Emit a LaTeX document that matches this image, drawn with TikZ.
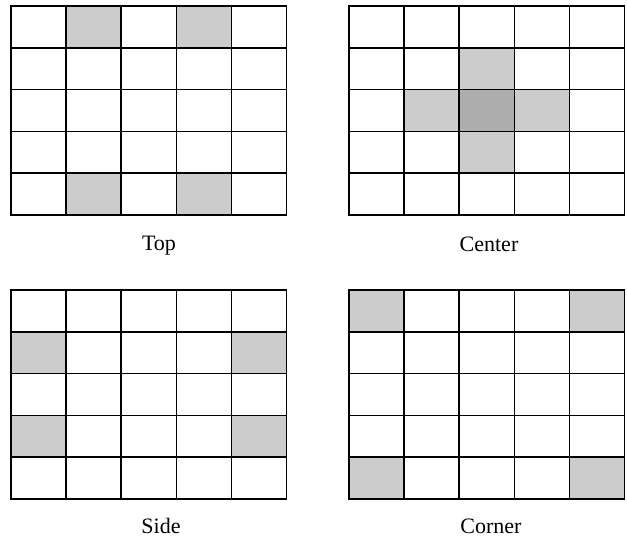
\documentclass[tikz,border=0pt]{standalone}
\usepackage{fontspec}
\setmainfont{Liberation Serif}
\usetikzlibrary{positioning}

\begin{document}
\begin{tikzpicture}[
  x=1pt, y=-1pt,
  % Cell styles
  shaded/.style={
    fill=black!20,
    draw=none,
  },
  shadedcore/.style={
    fill=black!32,
    draw=none,
  },
  gridline/.style={
    draw=black,
    line width=1.5pt,
    line cap=rect,
  },
  caption/.style={
    font=\fontsize{22}{26}\selectfont,
    anchor=base,
    inner sep=0pt,
  },
  panel/.style={
    x=55.1pt, y=-41.8pt,
  },
]
\useasboundingbox (0,0) rectangle (627,540);

% ── Panel 1: Top ──
\begin{scope}[shift={(11pt,-6pt)}, panel]
  \foreach \c/\r in {1/0, 3/0, 1/4, 3/4}
    \fill[shaded] (\c,\r) rectangle ++(1,1);
  \foreach \i in {0,...,5} {
    \draw[gridline] (\i,0) -- (\i,5);
    \draw[gridline] (0,\i) -- (5,\i);
  }
\end{scope}
\node[caption] (toplabel) at (159,251) {Top};

% ── Panel 2: Center ──
\begin{scope}[shift={(349pt,-6pt)}, panel]
  \foreach \c/\r in {2/1, 1/2, 3/2, 2/3}
    \fill[shaded] (\c,\r) rectangle ++(1,1);
  \fill[shadedcore] (2,2) rectangle ++(1,1);
  \foreach \i in {0,...,5} {
    \draw[gridline] (\i,0) -- (\i,5);
    \draw[gridline] (0,\i) -- (5,\i);
  }
\end{scope}
\node[caption] (centerlabel) at (489,252) {Center};

% ── Panel 3: Side ──
\begin{scope}[shift={(11pt,-290pt)}, panel]
  \foreach \c/\r in {0/1, 4/1, 0/3, 4/3}
    \fill[shaded] (\c,\r) rectangle ++(1,1);
  \foreach \i in {0,...,5} {
    \draw[gridline] (\i,0) -- (\i,5);
    \draw[gridline] (0,\i) -- (5,\i);
  }
\end{scope}
\node[caption] (sidelabel) at (161,533) {Side};

% ── Panel 4: Corner ──
\begin{scope}[shift={(349pt,-290pt)}, panel]
  \foreach \c/\r in {0/0, 4/0, 0/4, 4/4}
    \fill[shaded] (\c,\r) rectangle ++(1,1);
  \foreach \i in {0,...,5} {
    \draw[gridline] (\i,0) -- (\i,5);
    \draw[gridline] (0,\i) -- (5,\i);
  }
\end{scope}
\node[caption] (cornerlabel) at (491,533) {Corner};

\end{tikzpicture}
\end{document}
